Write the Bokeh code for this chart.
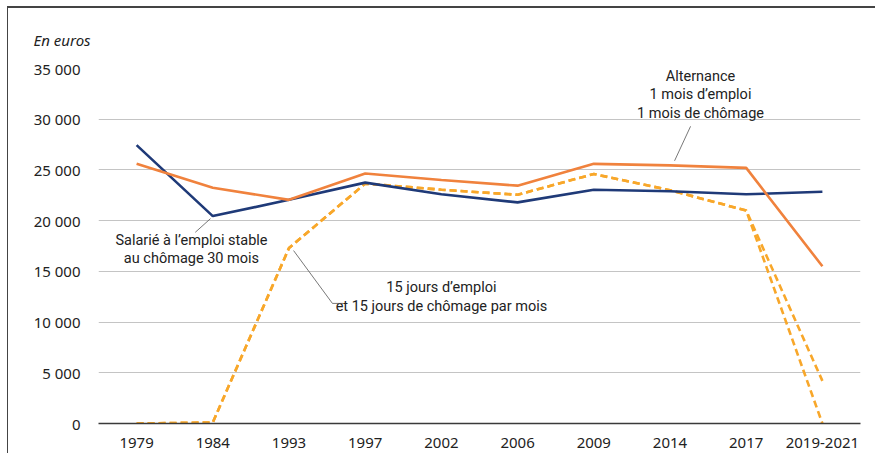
from bokeh.plotting import figure
from bokeh.models import Range1d, FixedTicker, InlineStyleSheet
from bokeh.core.properties import value
from bokeh.embed import file_html
from bokeh.resources import INLINE

categories = ["1979", "1984", "1993", "1997", "2002", "2006", "2009", "2014", "2017", "2019-2021"]
salarie_stable = [27450, 20450, 22050, 23750, 22600, 21800, 23050, 22900, 22600, 22850]
alternance = [25600, 23250, 22050, 24650, 24000, 23450, 25600, 25450, 25200, 15500]
quinze_jours_a = [0, 100, 17300, 23650, 23050, 22550, 24600, 23000, 21000, 4200]
quinze_jours_b = [0, 100, 17300, 23650, 23050, 22550, 24600, 23000, 21000, 0]
y_ticks = [0, 5000, 10000, 15000, 20000, 25000, 30000, 35000]
y_tick_labels = ["0", "5 000", "10 000", "15 000", "20 000", "25 000", "30 000", "35 000"]

NAVY = "#1f3a78"
ORANGE = "#f0823d"
DASH = "#f8a72a"
AXIS_FONT = "'Noto Sans', 'Open Sans', sans-serif"
ANN_FONT = "'Liberation Sans Narrow', 'Roboto', sans-serif"

xs = [i + 0.5 for i in range(len(categories))]

p = figure(width=868, height=447, output_backend="svg", toolbar_location=None,
           x_range=Range1d(0, len(categories)), y_range=Range1d(0, 35000),
           min_border_left=90, min_border_right=16, min_border_top=60, min_border_bottom=32,
           title="En euros")
p.stylesheets = [InlineStyleSheet(css=":host { margin-left: 8px; margin-top: 8px; box-shadow: -1px -2px 0 0 #444; }")]
p.outline_line_color = None
p.background_fill_color = "white"
p.border_fill_color = "white"

p.title.text_font = AXIS_FONT
p.title.text_font_style = "italic"
p.title.text_font_size = "15px"
p.title.text_color = "#222222"
p.title.align = "left"
p.title.offset = -65
p.title.standoff = 38

# axes
p.xaxis.ticker = FixedTicker(ticks=xs)
p.xaxis.major_label_overrides = {x: c for x, c in zip(xs, categories)}
p.xaxis.major_tick_line_color = None
p.xaxis.minor_tick_line_color = None
p.xaxis.axis_line_color = "#3a3a3a"
p.xaxis.axis_line_width = 1.5
p.xaxis.major_label_text_font = AXIS_FONT
p.xaxis.major_label_text_font_size = "15px"
p.xaxis.major_label_text_color = "#222222"
p.xaxis.major_label_standoff = 8

p.yaxis.ticker = FixedTicker(ticks=y_ticks)
p.yaxis.major_label_overrides = {t: l for t, l in zip(y_ticks, y_tick_labels)}
p.yaxis.major_tick_line_color = None
p.yaxis.minor_tick_line_color = None
p.yaxis.axis_line_color = None
p.yaxis.major_label_text_font = AXIS_FONT
p.yaxis.major_label_text_font_size = "15px"
p.yaxis.major_label_text_color = "#222222"
p.yaxis.major_label_standoff = 12

p.xgrid.grid_line_color = None
p.ygrid.ticker = FixedTicker(ticks=y_ticks[1:])
p.ygrid.grid_line_color = "#c4c4c4"
p.ygrid.grid_line_width = 1

# series
p.line(xs, quinze_jours_b, line_color=DASH, line_width=2.6, line_dash="7 4")
p.line(xs, quinze_jours_a, line_color=DASH, line_width=2.6, line_dash="7 4")
p.line(xs, salarie_stable, line_color=NAVY, line_width=2.6)
p.line(xs, alternance, line_color=ORANGE, line_width=2.6)

# annotations
def texts(x, ys, lines):
    p.text(x=[x] * len(lines), y=ys, text=lines, text_align="center", text_baseline="middle",
           text_font=value(ANN_FONT), text_font_size="14.5px", text_color="#222222")

texts(7.9, [34250, 32450, 30600], ["Alternance", "1 mois d\u2019emploi", "1 mois de ch\u00f4mage"])
p.segment(x0=[7.77], y0=[29300], x1=[7.56], y1=[alternance[7] + 450], line_color="#555555", line_width=0.8)

texts(1.22, [18060, 16250], ["Salari\u00e9 \u00e0 l\u2019emploi stable", "au ch\u00f4mage 30 mois"])
p.segment(x0=[1.27], y0=[18850], x1=[xs[1] - 0.03], y1=[salarie_stable[1] - 250], line_color="#555555", line_width=0.8)

texts(4.5, [13400, 11500], ["15 jours d\u2019emploi", "et 15 jours de ch\u00f4mage par mois"])
p.line(x=[xs[2] + 0.06, 3.07, 3.21], y=[quinze_jours_a[2] - 250, 11840, 11840], line_color="#555555", line_width=0.8)

open("out.html", "w").write(file_html(p, INLINE))
